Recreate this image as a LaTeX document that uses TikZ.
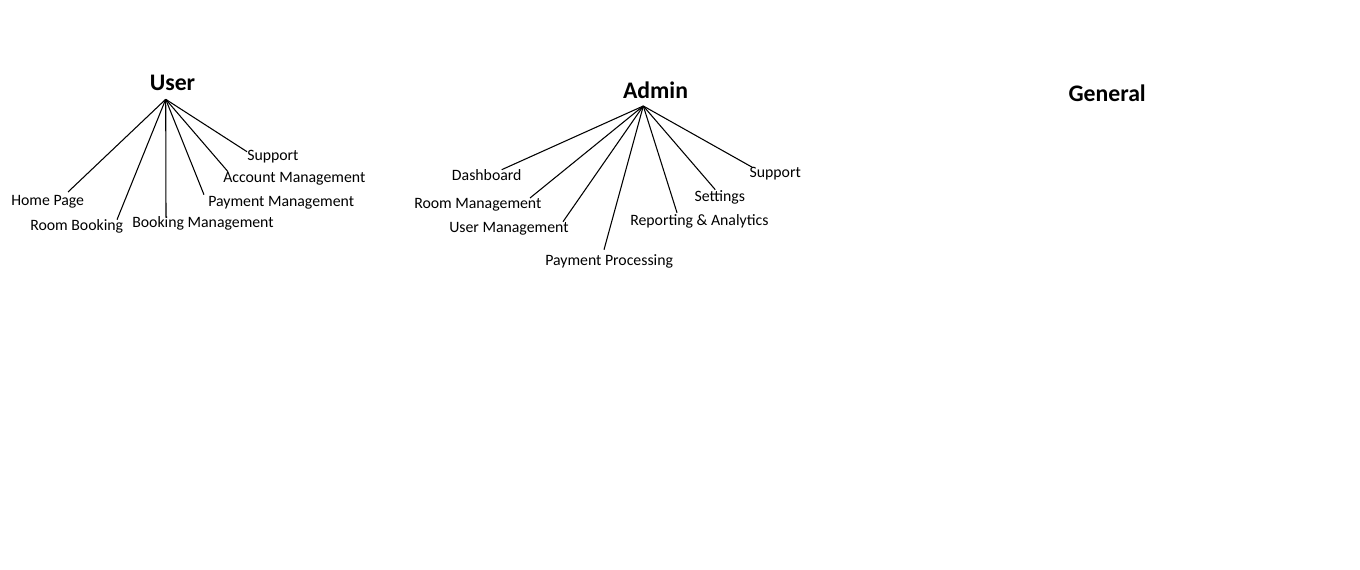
\documentclass[tikz,border=0pt]{standalone}
\usepackage{fontspec}
\setmainfont{Carlito}
\tikzset{
  title/.style={font=\fontsize{17.8}{21}\selectfont\bfseries, inner sep=0pt, anchor=base},
  item/.style={font=\fontsize{11.85}{14}\selectfont, inner sep=0pt, anchor=base west},
  link/.style={line width=0.8pt, black},
}
\begin{document}
\begin{tikzpicture}[x=0.75pt, y=-0.75pt]
\useasboundingbox (0,0) rectangle (1360,570);
% user side
\node[title] (user) at (172.5,91) {User};
\coordinate (uhub) at (165.7,99.3);
\node[item] (uhome) at (11,206) {Home Page};
\node[item] (uroom) at (30,230.7) {Room Booking};
\node[item] (ubook) at (132,227.7) {Booking Management};
\node[item] (upay) at (208,206.7) {Payment Management};
\node[item] (uacc) at (223,182.7) {Account Management};
\node[item] (usupp) at (247,160.7) {Support};
\draw[link] (uhub) -- ([shift={(57,-14)}]uhome.base west);
\draw[link] (uhub) -- ([shift={(87,-11)}]uroom.base west);
\draw[link] (uhub) -- ([shift={(34,-11)}]ubook.base west);
\draw[link] (uhub) -- ([shift={(-4,-12)}]upay.base west);
\draw[link] (uhub) -- ([shift={(5,-11)}]uacc.base west);
\draw[link] (uhub) -- ([shift={(0,-9)}]usupp.base west);
% admin side
\node[title] (admin) at (655.5,98.3) {Admin};
\coordinate (ahub) at (643.3,106);
\node[item] (adash) at (451.7,180.7) {Dashboard};
\node[item] (aroom) at (414,209) {Room Management};
\node[item] (auser) at (449,232.7) {User Management};
\node[item] (apay) at (545,265.7) {Payment Processing};
\node[item] (arep) at (630,225.7) {Reporting \& Analytics};
\node[item] (aset) at (694.3,201.7) {Settings};
\node[item] (asupp) at (749.3,177.3) {Support};
\draw[link] (ahub) -- ([shift={(50,-11)}]adash.base west);
\draw[link] (ahub) -- ([shift={(116,-11)}]aroom.base west);
\draw[link] (ahub) -- ([shift={(114,-11)}]auser.base west);
\draw[link] (ahub) -- ([shift={(59,-16)}]apay.base west);
\draw[link] (ahub) -- ([shift={(47,-13)}]arep.base west);
\draw[link] (ahub) -- ([shift={(21,-12)}]aset.base west);
\draw[link] (ahub) -- ([shift={(3,-10)}]asupp.base west);
% general
\node[title] (general) at (1107.2,101.7) {General};
\end{tikzpicture}
\end{document}
